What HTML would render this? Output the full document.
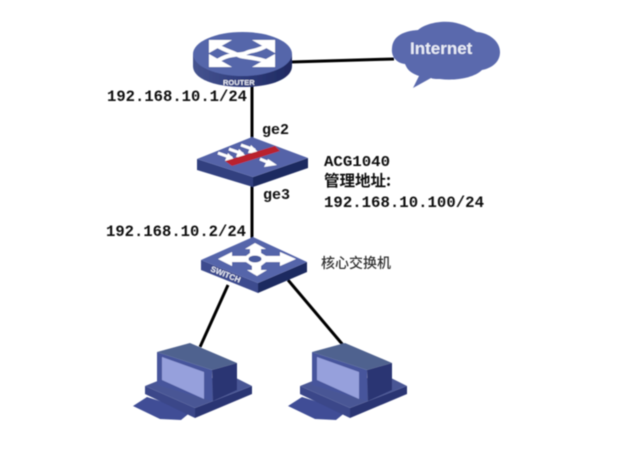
<!DOCTYPE html>
<html><head><meta charset="utf-8"><style>html,body{margin:0;padding:0;background:#fff;width:625px;height:449px;overflow:hidden}svg{display:block}text{font-family:"Liberation Mono","Noto Serif CJK SC",monospace;font-weight:bold;fill:#111}</style></head>
<body>
<svg width="625" height="449" viewBox="0 0 625 449" xmlns="http://www.w3.org/2000/svg">
<defs>
<filter id="b" x="-5%" y="-5%" width="110%" height="110%"><feGaussianBlur stdDeviation="0.5"/></filter>
<linearGradient id="side" x1="0" x2="1" y1="0" y2="0"><stop offset="0" stop-color="#46548f"/><stop offset=".5" stop-color="#2f3c7c"/><stop offset="1" stop-color="#1f2a60"/></linearGradient>
<g id="pc">
<path d="M133 406 L147 397 L192 411 L181 420 L160 419 Z" fill="#3f4d96"/>
<path d="M145 386 L195 408 V418 L145 394 Z" fill="#3a4689"/>
<path d="M195 408 L252 386 V394 L195 418 Z" fill="#2a3473"/>
<path d="M145 386 L165 378 L236 378 L252 386 L195 408 Z" fill="#4a5795"/>
<path d="M157 352 L212 370 V401 L157 385 Z" fill="#46559c"/>
<path d="M157 352 L190 343 L237 363 L212 370 Z" fill="#4f628f"/>
<path d="M162 357 L204 372 V399 L162 380 Z" fill="#96a0dc"/>
<path d="M212 370 L237 363 V390 L213 401 Z" fill="#2a3473"/>
</g>
</defs>
<rect width="625" height="449" fill="#fff"/>
<g filter="url(#b)">
<g stroke="#000" stroke-width="3" fill="none">
<line x1="291" y1="62" x2="394" y2="59"/>
<line x1="252" y1="86" x2="252" y2="140"/>
<line x1="252" y1="186" x2="252" y2="240"/>
<line x1="228" y1="285" x2="200" y2="347"/>
<line x1="288" y1="280" x2="343" y2="345"/>
</g>
<!-- Router -->
<path d="M193 54 V66 C193 79 215 87 243 87 C271 87 292 79 292 66 V54 Z" fill="url(#side)"/>
<ellipse cx="242.500" cy="54" rx="49.500" ry="22" fill="#5566aa"/>
<g fill="#fff">
<path d="M209 40 H232 L209 53 Z"/>
<path d="M275 40 H252 L275 53 Z"/>
<path d="M209 67 H232 L209 54 Z"/>
<path d="M275 67 H252 L275 54 Z"/>
</g>
<g fill="none" stroke="#fff" stroke-width="4">
<path d="M216 45 C228 52 228 50 238 55 C242 58 252 56 268 62"/>
<path d="M268 45 C256 52 252 50 246 53 C240 56 230 52 216 62"/>
</g>
<text x="223" y="85" style="font-family:'Liberation Sans',sans-serif;font-size:7.500px;fill:#e8ebf5">ROUTER</text>
<!-- Cloud -->
<path d="M392 48 C393 35 405 31 418 30 C426 23 445 19 460 24 C470 27 474 31 477 32 C490 33 500 42 500 52 C500 62 492 68 482 70 C474 78 455 81 440 79 C436 79 433 79 431 78 L413 88 L419 76 C408 72 407 68 405 64 C396 63 391 56 392 48 Z" fill="#5a69ad"/>
<text x="410" y="54" style="font-family:'Liberation Sans',sans-serif;font-size:17px;fill:#e9ecf6">Internet</text>
<!-- Firewall -->
<path d="M197 159 V170 L253 187 V177 Z" fill="#33417f"/>
<path d="M253 177 V187 L308 168 V158 Z" fill="#1f2a60"/>
<path d="M197 159 L252 137 L308 158 L253 177 Z" fill="#5463a8"/>
<g fill="none" stroke="#fff" stroke-width="3"><path d="M218 153 L232 158 M229 149 L243 154 M241 145 L255 150 M260 159 L272 164"/></g>
<g fill="#fff">
<path d="M228 153 L236 161 L225 161 Z M239 149 L247 157 L236 157 Z M251 145 L259 153 L248 153 Z M268 159 L277 165 L264 167 Z"/>
</g>
<path d="M225 161 L275 146 L280 151 L232 166 Z" fill="#b9202e"/>
<!-- Switch -->
<path d="M201 260 V270 L258 293 V283 Z" fill="#3e4c8e"/>
<path d="M258 283 V293 L307 272 V262 Z" fill="#1f2a60"/>
<path d="M201 260 L253 237 L307 262 L258 283 Z" fill="#5565aa"/>
<g fill="#fff">
<path d="M218 259 L232 252 V256 L246 256 L250 253 V249 H245 L255 243 L266 249 H261 V253 L266 256 L280 256 V252 L296 259 L280 266 V262 L266 262 L261 266 V270 H267 L257 276 L247 270 H252 V266 L246 262 L232 262 V266 Z"/>
</g>
<ellipse cx="255" cy="259" rx="6.500" ry="3.500" fill="#4a5a9e"/>
<text x="0" y="0" transform="translate(210 271) rotate(22)" style="font-family:'Liberation Sans',sans-serif;font-size:8px;fill:#e8ebf5">SWITCH</text>
<!-- PCs -->
<use href="#pc"/>
<use href="#pc" x="155"/>
</g>
<g filter="url(#b)">
<text x="107" y="101" font-size="15.500" textLength="140" lengthAdjust="spacingAndGlyphs">192.168.10.1/24</text>
<text x="262" y="134" font-size="15">ge2</text>
<text x="263" y="199" font-size="15">ge3</text>
<text x="324" y="166" font-size="15" textLength="66" lengthAdjust="spacingAndGlyphs">ACG1040</text>
<text x="324" y="186" font-size="15.500" style="font-family:'Noto Sans CJK SC',sans-serif">管理地址:</text>
<text x="324" y="207" font-size="15.500" textLength="160" lengthAdjust="spacingAndGlyphs">192.168.10.100/24</text>
<text x="106" y="236" font-size="15.500" textLength="140" lengthAdjust="spacingAndGlyphs">192.168.10.2/24</text>
<text x="321" y="268" font-size="14" style="font-family:'Noto Sans CJK SC',sans-serif;font-weight:500;fill:#333">核心交换机</text>
</g>
</svg>
</body></html>
